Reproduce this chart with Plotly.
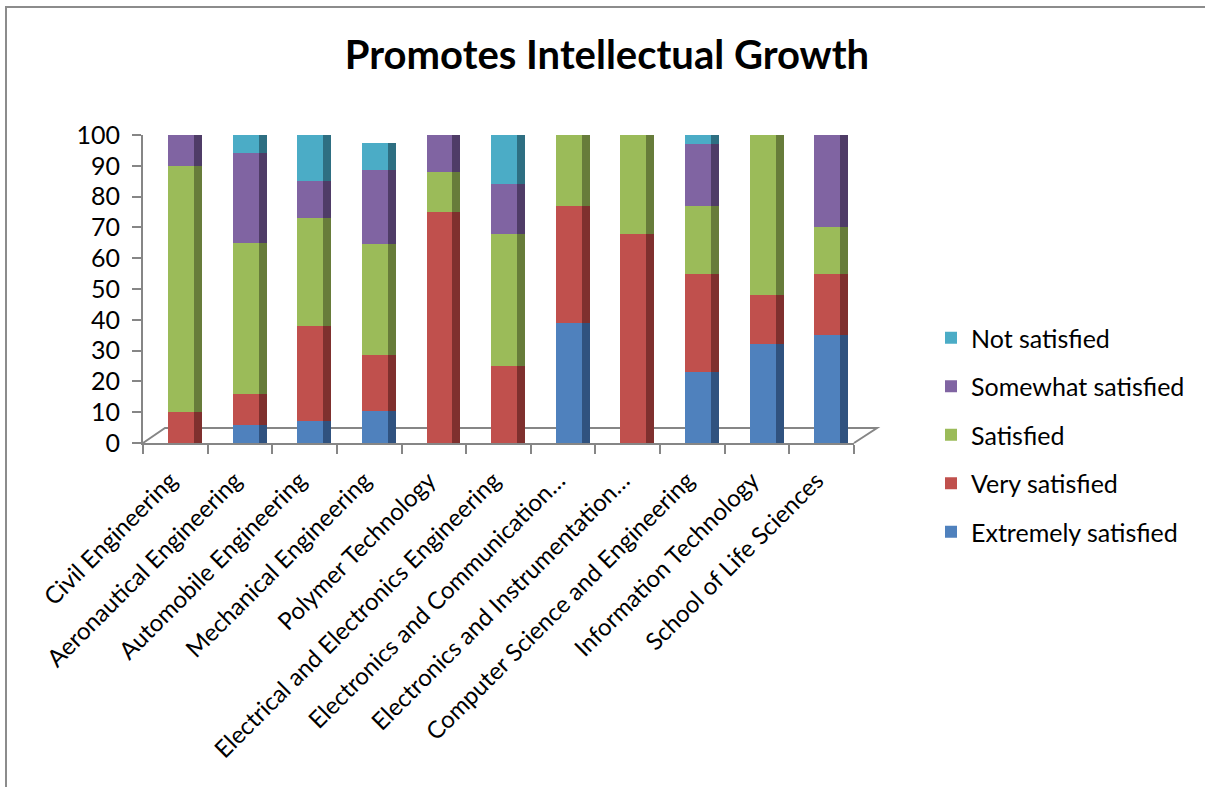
import plotly.graph_objects as go

categories = [
    "Civil Engineering",
    "Aeronautical Engineering",
    "Automobile Engineering",
    "Mechanical Engineering",
    "Polymer Technology",
    "Electrical and Electronics Engineering",
    "Electronics and Communication…",
    "Electronics and Instrumentation…",
    "Computer Science and Engineering",
    "Information Technology",
    "School of Life Sciences",
]
series_names = ["Extremely satisfied", "Very satisfied", "Satisfied",
                "Somewhat satisfied", "Not satisfied"]
extremely_satisfied = [0, 6, 7, 10.5, 0, 0, 39, 0, 23, 32, 35]
very_satisfied = [10, 10, 31, 18, 75, 25, 38, 68, 32, 16, 20]
satisfied = [80, 49, 35, 36, 13, 43, 23, 32, 22, 52, 15]
somewhat_satisfied = [10, 29, 12, 24, 12, 16, 0, 0, 20, 0, 30]
not_satisfied = [0, 6, 15, 9, 0, 16, 0, 0, 3, 0, 0]
y_ticks = [0, 10, 20, 30, 40, 50, 60, 70, 80, 90, 100]

series_values = [extremely_satisfied, very_satisfied, satisfied,
                 somewhat_satisfied, not_satisfied]
front_colors = ["#4F81BD", "#C0504D", "#9BBB59", "#8064A2", "#4BACC6"]
side_colors = ["#30527F", "#7F302E", "#677C3A", "#4F3C67", "#2E6F82"]

FONT = "Lato"
fig = go.Figure()
n = len(series_names)
for i, (name, vals, c) in enumerate(zip(series_names, series_values, front_colors)):
    fig.add_trace(go.Bar(
        x=categories, y=vals, name=name, marker_color=c,
        marker_line_width=0, width=0.40, offset=-0.113,
        legendgroup=name, legendrank=n - i, xaxis="x", yaxis="y",
    ))
for name, vals, c in zip(series_names, series_values, side_colors):
    fig.add_trace(go.Bar(
        x=categories, y=vals, name=name, marker_color=c,
        marker_line_width=0, width=0.124, offset=0.287,
        legendgroup=name, showlegend=False, xaxis="x2", yaxis="y",
        hoverinfo="skip",
    ))

L, R, T, B = 143, 1205 - 854, 135, 787 - 443
W, H = 854 - 143, 443 - 135

def px(x):
    return (x - L) / W

def py(y):
    return (443 - y) / H

axis_col = "#868686"
shapes = [
    # chart border (top and left)
    dict(type="path", xref="paper", yref="paper",
         path=f"M {px(6)} {py(800)} L {px(6)} {py(7)} L {px(1210)} {py(7)}",
         line=dict(color="#8C8C8C", width=2)),
    # 3D floor
    dict(type="path", xref="paper", yref="paper",
         path=f"M 0 0 L {px(165)} {py(428)} L {px(877)} {py(428)} L 1 0",
         line=dict(color=axis_col, width=2), layer="below"),
]

fig.update_layout(
    width=1205, height=787,
    barmode="stack",
    bargap=0.6,
    plot_bgcolor="white", paper_bgcolor="white",
    margin=dict(l=L, r=R, t=T, b=B, autoexpand=False),
    font=dict(family=FONT, color="#000000", size=24),
    title=dict(text="<b>Promotes Intellectual Growth</b>",
               font=dict(family=FONT, size=40, color="#000000"),
               x=607 / 1205, xref="container", xanchor="center",
               y=1 - 55 / 787, yref="container", yanchor="middle"),
    xaxis=dict(type="category", categoryorder="array", categoryarray=categories,
               range=[-0.5, 10.5], tickangle=-45, showline=True,
               linecolor=axis_col, linewidth=2, ticks="outside",
               tickson="boundaries", ticklen=9, tickcolor=axis_col,
               tickwidth=2, showgrid=False, zeroline=False,
               ticklabelstandoff=12, ticklabelshift=-5,
               tickfont=dict(family=FONT, size=24)),
    xaxis2=dict(type="category", categoryorder="array", categoryarray=categories,
                range=[-0.5, 10.5], overlaying="x", visible=False,
                matches="x"),
    yaxis=dict(range=[0, 100], tickvals=y_ticks, showline=True,
               linecolor=axis_col, linewidth=2, ticks="outside", ticklen=9,
               tickcolor=axis_col, tickwidth=2, showgrid=False,
               zeroline=False, ticklabelstandoff=7,
               tickfont=dict(family=FONT, size=25)),
    legend=dict(x=px(931), xanchor="left", y=py(315), yanchor="top",
                traceorder="grouped", tracegroupgap=13,
                font=dict(family=FONT, size=25), bgcolor="rgba(0,0,0,0)"),
    shapes=shapes,
    showlegend=True,
)

fig.write_html("out.html", config={"displayModeBar": False},
               post_script="document.body.style.margin='0';"
                           "document.body.style.overflow='hidden';")
